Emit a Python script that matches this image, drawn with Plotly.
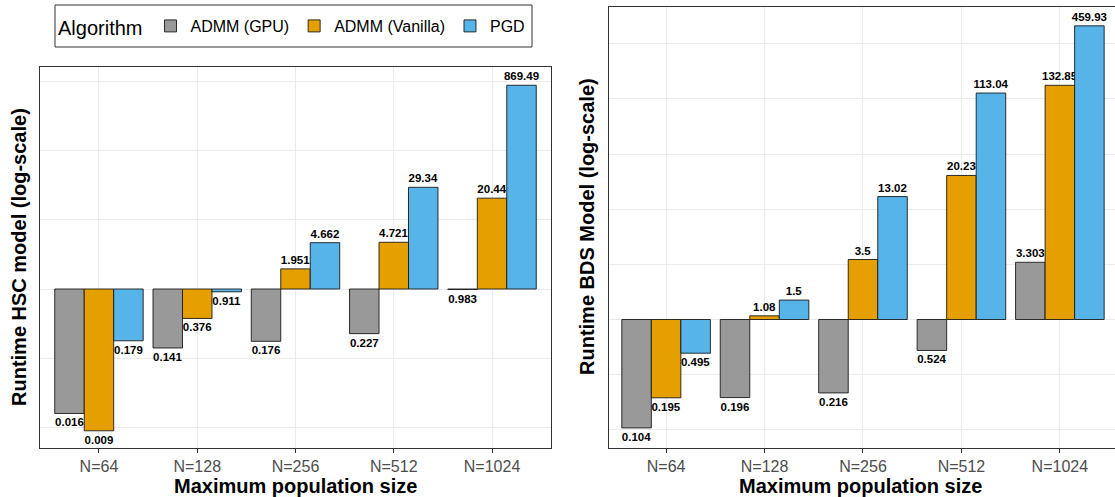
import plotly.graph_objects as go

categories = ["N=64", "N=128", "N=256", "N=512", "N=1024"]
algorithms = ["ADMM (GPU)", "ADMM (Vanilla)", "PGD"]
colors = ["#999999", "#E69F00", "#56B4E9"]

hsc_gpu = [0.016, 0.141, 0.176, 0.227, 0.983]
hsc_vanilla = [0.009, 0.376, 1.951, 4.721, 20.44]
hsc_pgd = [0.179, 0.911, 4.662, 29.34, 869.49]

bds_gpu = [0.104, 0.196, 0.216, 0.524, 3.303]
bds_vanilla = [0.195, 1.08, 3.5, 20.23, 132.85]
bds_pgd = [0.495, 1.5, 13.02, 113.04, 459.93]

hsc_grid = [0.01, 0.1, 1, 10, 100, 1000]
bds_grid = [10 ** (k / 2) for k in range(-2, 6)]

W, H = 1115, 497
px = lambda v: v / W
py = lambda v: (H - v) / H

fig = go.Figure()

panels = [
    ([hsc_gpu, hsc_vanilla, hsc_pgd], "x", "y", True),
    ([bds_gpu, bds_vanilla, bds_pgd], "x2", "y2", False),
]
for series, xa, ya, show in panels:
    for name, col, vals in zip(algorithms, colors, series):
        fig.add_trace(go.Bar(
            x=categories, y=[v - 1 for v in vals], base=1,
            name=name, marker=dict(color=col, line=dict(color="#1a1a1a", width=0.9)),
            text=[str(v) for v in vals], texttemplate="%{text}",
            textposition="outside", constraintext="none", cliponaxis=False,
            textfont=dict(size=11.5, color="black", family="Liberation Sans", weight="bold"),
            xaxis=xa, yaxis=ya, showlegend=show, legendgroup=name,
        ))

axis_common = dict(
    showgrid=True, gridcolor="#EBEBEB", gridwidth=1.1,
    showline=True, linecolor="#333333", linewidth=1.2,
    zeroline=False, fixedrange=True,
)

fig.update_layout(
    width=W, height=H,
    margin=dict(l=0, r=0, t=0, b=0),
    paper_bgcolor="white", plot_bgcolor="white",
    barmode="group", bargap=0.1, bargroupgap=0,
    font=dict(family="Liberation Sans", color="black"),
    xaxis=dict(domain=[px(40), px(551)], anchor="y", range=[-0.6, 4.6],
               mirror=True, ticks="outside", ticklen=4, tickcolor="#333333",
               tickfont=dict(size=16, color="#4D4D4D"), automargin=False, **axis_common),
    yaxis=dict(domain=[py(448), py(67)], anchor="x", type="log", range=[-2.294, 3.203],
               mirror=True, tickvals=hsc_grid, showticklabels=False, ticks="",
               automargin=False, **axis_common),
    xaxis2=dict(domain=[px(609), 1.0], anchor="y2", range=[-0.58, 4.56],
                mirror=True, ticks="outside", ticklen=4, tickcolor="#333333",
                tickfont=dict(size=16, color="#4D4D4D"), automargin=False, **axis_common),
    yaxis2=dict(domain=[py(448), py(6.5)], anchor="x2", type="log", range=[-1.165, 2.838],
                mirror=False, tickvals=bds_grid, showticklabels=False, ticks="",
                automargin=False, **axis_common),
    legend=dict(
        orientation="h", x=px(56), y=py(9), xanchor="left", yanchor="top",
        borderwidth=0, bgcolor="rgba(0,0,0,0)",
        title=dict(text="Algorithm", font=dict(size=20, color="black")),
        font=dict(size=16, color="black"),
    ),
    shapes=[
        dict(type="rect", xref="paper", yref="paper",
             x0=px(55), x1=px(532), y0=py(47), y1=py(5),
             line=dict(color="#333333", width=1), fillcolor="rgba(0,0,0,0)"),
    ],
    annotations=[
        dict(text="<b>Runtime HSC model (log-scale)</b>", x=px(19), y=py(257), xref="paper", yref="paper",
             textangle=-90, showarrow=False, font=dict(size=20), xanchor="center", yanchor="middle"),
        dict(text="<b>Runtime BDS Model (log-scale)</b>", x=px(587), y=py(227), xref="paper", yref="paper",
             textangle=-90, showarrow=False, font=dict(size=20), xanchor="center", yanchor="middle"),
        dict(text="<b>Maximum population size</b>", x=px(295), y=py(486), xref="paper", yref="paper",
             showarrow=False, font=dict(size=20), xanchor="center", yanchor="middle"),
        dict(text="<b>Maximum population size</b>", x=px(860), y=py(486), xref="paper", yref="paper",
             showarrow=False, font=dict(size=20), xanchor="center", yanchor="middle"),
    ],
)

fig.write_html("out.html", config={"displayModeBar": False},
               post_script="document.body.style.margin='0';")
